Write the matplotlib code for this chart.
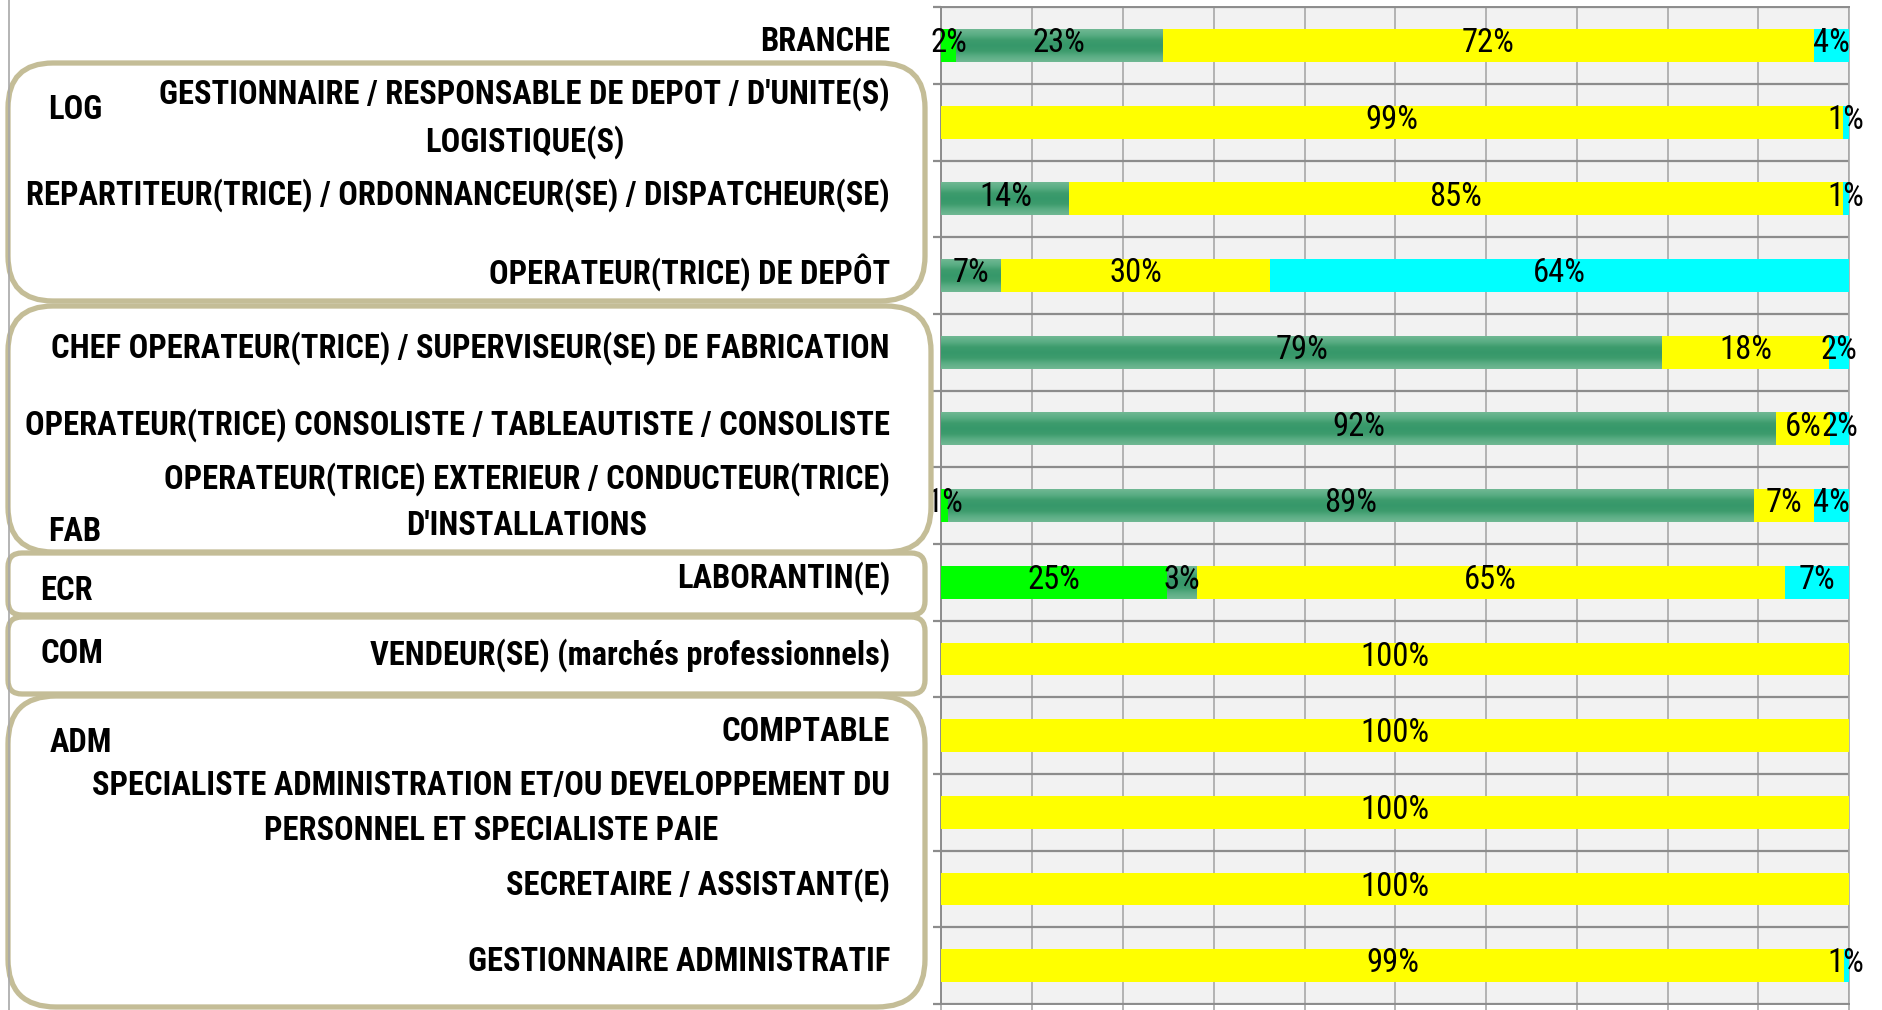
import numpy as np
import matplotlib
matplotlib.use('Agg')
import matplotlib.pyplot as plt
from matplotlib import font_manager as fm
from matplotlib.patches import FancyBboxPatch
from matplotlib.colors import LinearSegmentedColormap
from matplotlib.lines import Line2D
from matplotlib.transforms import IdentityTransform, blended_transform_factory

# ---------------- data ----------------
categories = [
    "BRANCHE",
    "GESTIONNAIRE / RESPONSABLE DE DEPOT / D'UNITE(S)\nLOGISTIQUE(S)",
    "REPARTITEUR(TRICE) / ORDONNANCEUR(SE) / DISPATCHEUR(SE)",
    "OPERATEUR(TRICE) DE DEPÔT",
    "CHEF OPERATEUR(TRICE) / SUPERVISEUR(SE) DE FABRICATION",
    "OPERATEUR(TRICE) CONSOLISTE / TABLEAUTISTE / CONSOLISTE",
    "OPERATEUR(TRICE) EXTERIEUR / CONDUCTEUR(TRICE)\nD'INSTALLATIONS",
    "LABORANTIN(E)",
    "VENDEUR(SE) (marchés professionnels)",
    "COMPTABLE",
    "SPECIALISTE ADMINISTRATION ET/OU DEVELOPPEMENT DU\nPERSONNEL ET SPECIALISTE PAIE",
    "SECRETAIRE / ASSISTANT(E)",
    "GESTIONNAIRE ADMINISTRATIF",
]
s_green    = [1.6, 0.0, 0.0, 0.0, 0.0, 0.0, 0.7, 24.8, 0.0, 0.0, 0.0, 0.0, 0.0]
s_seagreen = [22.7, 0.0, 14.1, 6.6, 79.4, 92.0, 88.8, 3.3, 0.0, 0.0, 0.0, 0.0, 0.0]
s_yellow   = [71.8, 99.3, 85.2, 29.6, 18.4, 5.9, 6.6, 64.8, 100.0, 100.0, 100.0, 100.0, 99.4]
s_cyan     = [3.9, 0.7, 0.7, 63.8, 2.2, 2.1, 3.9, 7.1, 0.0, 0.0, 0.0, 0.0, 0.6]
group_names = ["LOG", "FAB", "ECR", "COM", "ADM"]
x_ticks = [0, 10, 20, 30, 40, 50, 60, 70, 80, 90, 100]

# ---------------- fonts ----------------
ttf = fm.fontManager.ttflist
names = {f.name for f in ttf}
family = None
stretch = 'normal'
for c in ['Liberation Sans Narrow', 'Roboto Condensed', 'DejaVu Sans Condensed',
          'Open Sans Condensed', 'Noto Sans Condensed']:
    if c in names:
        family = c
        break
if family is None:
    for base in ['DejaVu Sans', 'Noto Sans', 'Open Sans', 'Roboto']:
        if any(f.name == base and str(f.stretch) in ('condensed', 'semi-condensed', '500', '375', '400', 'extra-condensed')
               for f in ttf):
            family, stretch = base, 'condensed'
            break
if family is None:
    family = 'DejaVu Sans'

W, H = 1883, 1010
fig = plt.figure(figsize=(W / 100, H / 100), dpi=100)
fig.patch.set_facecolor('white')
renderer = fig.canvas.get_renderer()


def fit_size(text, target_px, weight):
    t = fig.text(0, 0, text, fontsize=20, fontweight=weight, family=family, fontstretch=stretch)
    w = t.get_window_extent(renderer).width
    t.remove()
    return 20 * target_px / w


cat_fs = fit_size(categories[2], 866, 'bold')
val_fs = fit_size("72%", 53, 'normal')

# ---------------- axes ----------------
L, R, T, B = 941.5, 1849, 7.3, 1004
ax = fig.add_axes([L / W, 1 - B / H, (R - L) / W, (B - T) / H])
n = len(categories)
y = np.arange(n)
bar_h = 0.43

cmap_sg = LinearSegmentedColormap.from_list(
    'sg', ['#70b893', '#5aad84', '#3d9c6d', '#36986a', '#3d9c6d', '#5aad84', '#70b893'])
grad = np.linspace(0, 1, 64).reshape(-1, 1)

series = [(s_green, '#00FF00', False), (s_seagreen, '#3c9b6c', True),
          (s_yellow, '#FFFF00', False), (s_cyan, '#00FFFF', False)]
left = np.zeros(n)
for vals, col, use_grad in series:
    vals = np.asarray(vals, dtype=float)
    bars = ax.barh(y, vals, left=left, height=bar_h, color=col, linewidth=0, zorder=3)
    for i, (b, v) in enumerate(zip(bars, vals)):
        if v <= 0:
            continue
        if use_grad:
            im = ax.imshow(grad, extent=[left[i], left[i] + v, i + bar_h / 2, i - bar_h / 2],
                           cmap=cmap_sg, aspect='auto', zorder=3.5, interpolation='bilinear')
            im.set_clip_path(b)
        ax.text(left[i] + v / 2, i - 0.03, f"{v:.0f}%", ha='center', va='center',
                fontsize=val_fs, family=family, fontstretch=stretch, color='black',
                zorder=5, clip_on=False)
    left += vals

ax.set_xlim(0, 100)
ax.set_ylim(n - 0.5, -0.5)
ax.set_facecolor('#F2F2F2')
ax.set_xticks(x_ticks)
ax.set_xticklabels([])
ax.set_yticks([])
ax.set_yticks(np.arange(-0.5, n, 1), minor=True)
ax.xaxis.grid(True, color='#A8A8A8', lw=1.2)
ax.yaxis.grid(True, which='minor', color='#8C8C8C', lw=1.6)
ax.set_axisbelow(True)
ax.tick_params(axis='x', length=6, color='#A8A8A8', width=1.2)
ax.tick_params(axis='y', which='minor', length=6, color='#8C8C8C', width=1.6, left=True)
for s in ['left', 'top', 'bottom']:
    ax.spines[s].set_color('#8C8C8C')
    ax.spines[s].set_linewidth(1.4)
ax.spines['right'].set_color('#A8A8A8')
ax.spines['right'].set_linewidth(1.2)

# ---------------- category labels ----------------
fp = fm.FontProperties(family=family, weight='bold', size=cat_fs, stretch=stretch)
_, lh, ld = renderer.get_text_width_height_descent("lp", fp, ismath=False)
ls = 0.845 * 45.6 / (lh - ld)
tr = blended_transform_factory(fig.transFigure, ax.transData)
for i, c in enumerate(categories):
    ax.text(890 / W, i - 0.05, c, transform=tr, ha='right', va='center',
            multialignment='center', fontsize=cat_fs, fontweight='bold',
            family=family, fontstretch=stretch, linespacing=ls, clip_on=False)

# ---------------- group boxes ----------------
box_specs = [(8, 63, 925, 301, 45), (8, 306, 931, 552, 45), (8, 553, 925, 615, 14),
             (8, 617, 925, 694, 14), (8, 696, 925, 1007, 48)]
for x0, y0, x1, y1, r in box_specs:
    p = FancyBboxPatch((x0, H - y1), x1 - x0, y1 - y0,
                       boxstyle=f"round,pad=0,rounding_size={r}",
                       transform=IdentityTransform(), fc='none', ec='#C4BD97', lw=3.8)
    fig.add_artist(p)

group_pos = [(48, 110), (48, 532), (40, 591), (40, 654), (50, 743)]
for g, (gx, gy) in zip(group_names, group_pos):
    fig.text(gx / W, 1 - gy / H, g, ha='left', va='center', fontsize=cat_fs,
             fontweight='bold', family=family, fontstretch=stretch)

fig.add_artist(Line2D([9.5 / W, 9.5 / W], [0, 1], transform=fig.transFigure,
                      color='#A8A8A8', lw=1.2))

fig.savefig('out.png', dpi=100, facecolor='white')
